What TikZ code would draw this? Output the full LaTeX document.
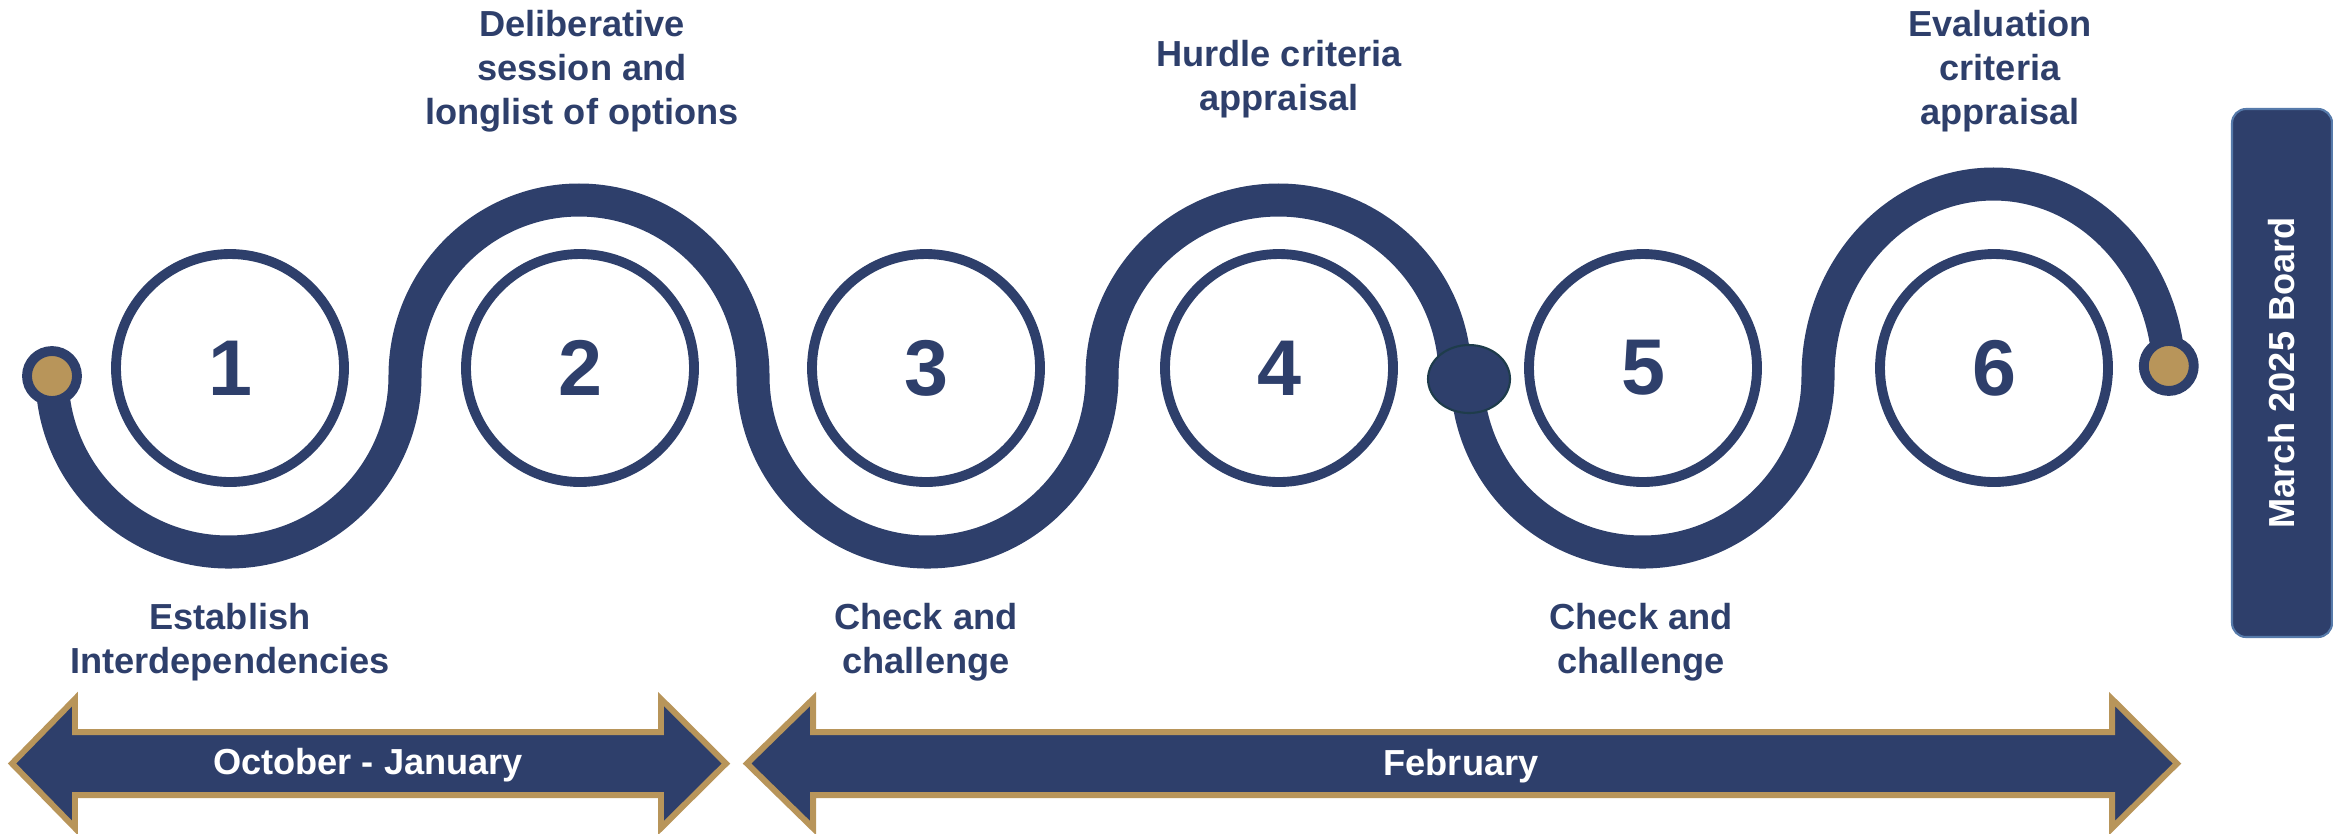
\documentclass[tikz,border=0pt]{standalone}
\usepackage{fontspec}
\setmainfont{Liberation Sans}
\definecolor{roadnavy}{RGB}{46, 63, 107}
\definecolor{roadgold}{RGB}{184, 149, 90}
\definecolor{boardedge}{RGB}{86, 122, 170}
\definecolor{knotedge}{RGB}{30, 60, 75}
\usetikzlibrary{
  positioning,
  shapes.geometric
}

\begin{document}
\begin{tikzpicture}[
  stage/.style={
    circle, draw=roadnavy, line width=2.8pt, fill=white,
    minimum size=2.28cm, inner sep=0pt,
    text=roadnavy, font=\fontsize{22.5}{27}\selectfont\bfseries
  },
  caption/.style={
    text=roadnavy, align=center, anchor=north, inner sep=0pt,
    font=\fontsize{10.3}{12.4}\selectfont\bfseries
  },
  wave/.style={draw=roadnavy, line width=9.4pt},
  enddot/.style={
    circle, draw=roadnavy, line width=2.8pt, fill=roadgold,
    minimum size=0.5cm, inner sep=0pt
  },
  knot/.style={
    ellipse, draw=knotedge, line width=0.6pt, fill=roadnavy,
    minimum width=0.82cm, minimum height=0.68cm, inner sep=0pt
  },
  span/.style={fill=roadnavy, draw=roadgold, line width=1.7pt, line join=miter},
  spantext/.style={text=white, font=\fontsize{10.3}{12}\selectfont\bfseries},
  board/.style={
    draw=boardedge, line width=0.6pt, fill=roadnavy,
    rounded corners=4pt, minimum width=5.28cm, minimum height=1.0cm,
    text=white, inner sep=0pt, font=\fontsize{10.3}{12}\selectfont\bfseries
  }
]
\useasboundingbox (0,0) rectangle (23.33,-8.33);

% the winding road
\coordinate (start) at (0.52,-3.76);
\coordinate (gap) at (14.67,-3.76);
\draw[wave] (start)
  arc[start angle=180, end angle=360, x radius=1.765cm, y radius=1.76cm]
  arc[start angle=180, end angle=0,   x radius=1.74cm,  y radius=1.76cm]
  arc[start angle=180, end angle=360, x radius=1.745cm, y radius=1.76cm]
  arc[start angle=180, end angle=0,   x radius=1.765cm, y radius=1.76cm]
  (gap)
  arc[start angle=180, end angle=360, x radius=1.755cm, y radius=1.76cm]
  arc[start angle=180, end angle=3,   x radius=1.755cm, y radius=1.92cm]
  coordinate (finish);
\node[enddot] (d0) at (start) {};
\node[enddot] (d1) at (finish) {};
\node[knot] (k45) at (14.69,-3.79) {};

% stages
\node[stage] (s1) at ( 2.30,-3.68) {1};
\node[stage] (s2) at ( 5.80,-3.68) {2};
\node[stage] (s3) at ( 9.26,-3.68) {3};
\node[stage] (s4) at (12.79,-3.68) {4};
\node[stage] (s5) at (16.43,-3.68) {5};
\node[stage] (s6) at (19.94,-3.68) {6};

\node[caption] (c1) at ( 2.30,-6.03) {Establish\\Interdependencies};
\node[caption] (c2) at ( 5.82,-0.10) {Deliberative\\session and\\longlist of options};
\node[caption] (c3) at ( 9.26,-6.03) {Check and\\challenge};
\node[caption] (c4) at (12.79,-0.40) {Hurdle criteria\\appraisal};
\node[caption] (c5) at (16.41,-6.03) {Check and\\challenge};
\node[caption] (c6) at (20.00,-0.10) {Evaluation\\criteria\\appraisal};

% time spans
\draw[span] (0.12,-7.635) -- (0.75,-6.99) -- (0.75,-7.32) -- (6.61,-7.32)
  -- (6.61,-6.99) -- (7.26,-7.635) -- (6.61,-8.28) -- (6.61,-7.95)
  -- (0.75,-7.95) -- (0.75,-8.28) -- cycle;
\draw[span] (7.47,-7.635) -- (8.13,-6.99) -- (8.13,-7.32) -- (21.12,-7.32)
  -- (21.12,-6.99) -- (21.77,-7.635) -- (21.12,-8.28) -- (21.12,-7.95)
  -- (8.13,-7.95) -- (8.13,-8.28) -- cycle;
\node[spantext] (p1) at (3.68,-7.65) {October - January};
\node[spantext] (p2) at (14.61,-7.66) {February};

\node[board, rotate=90] (board) at (22.82,-3.73) {March 2025 Board};
\end{tikzpicture}
\end{document}
